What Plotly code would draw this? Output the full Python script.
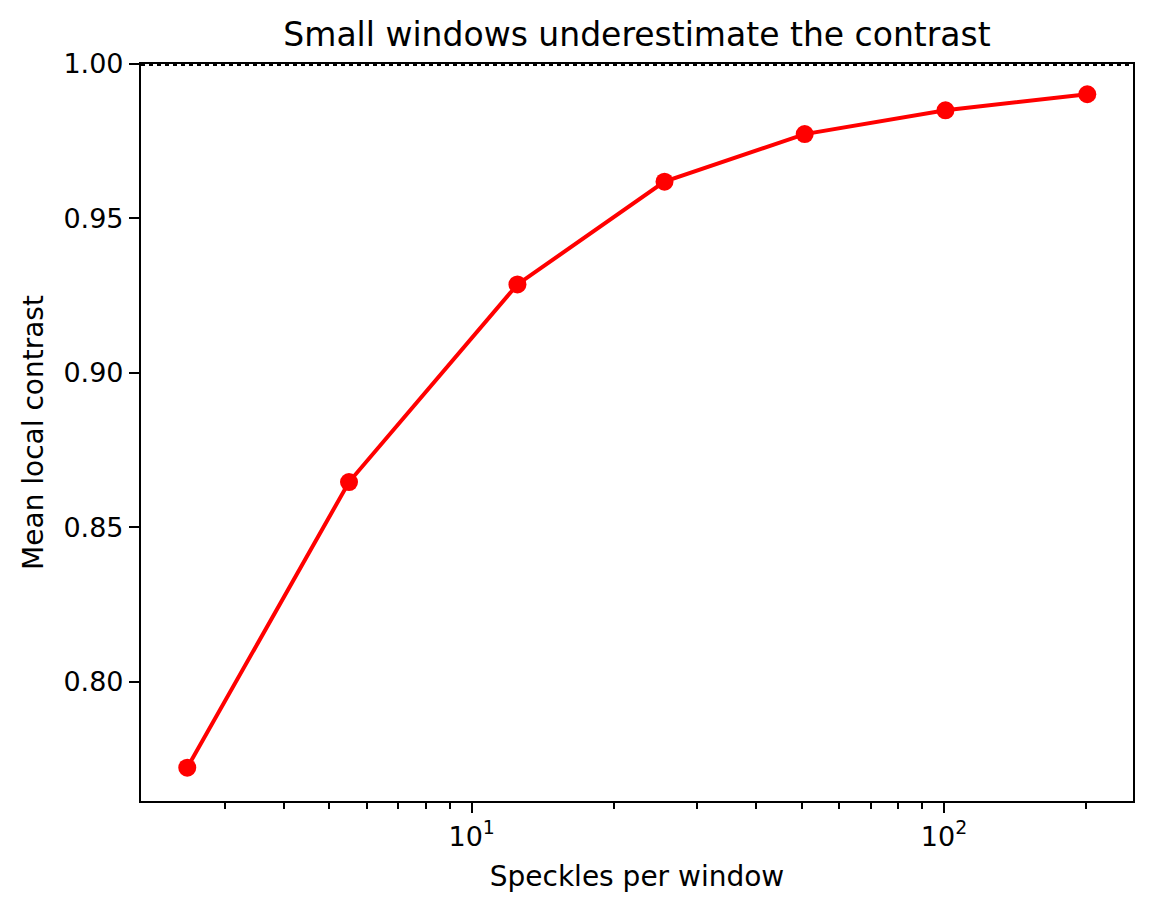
import plotly.graph_objects as go

# speckles per window vs mean local contrast
speckles = [2.5, 5.5, 12.5, 25.6, 50.7, 100.7, 201]
mean_contrast = [0.7721, 0.8646, 0.9286, 0.9619, 0.9773, 0.9850, 0.9902]
ref_level = 1.0

y_ticks = [0.80, 0.85, 0.90, 0.95, 1.00]
x_ticks = [10, 100]
x_ticktext = ["10<sup>1</sup>", "10<sup>2</sup>"]
x_minor = [3, 4, 5, 6, 7, 8, 9, 20, 30, 40, 50, 60, 70, 80, 90, 200]

FONT = "DejaVu Sans"

# the page body adds an 8px margin, so the figure is a bit smaller than the window
W, H = 1145, 904

fig = go.Figure()

fig.add_trace(go.Scatter(
    x=speckles, y=mean_contrast,
    mode="lines+markers",
    line=dict(color="#ff0000", width=4),
    marker=dict(color="#ff0000", size=18),
    showlegend=False,
    cliponaxis=False,
))

# dotted reference line at full contrast
fig.add_shape(type="line", xref="x domain", yref="y", layer="above",
              x0=0, x1=1, y0=ref_level, y1=ref_level,
              line=dict(color="black", width=4, dash="dot"))

fig.update_layout(
    width=W, height=H,
    margin=dict(l=133, r=20, t=56, b=111),
    paper_bgcolor="white", plot_bgcolor="white",
    font=dict(family=FONT, size=27, color="black"),
    title=dict(text="Small windows underestimate the contrast",
               x=0.5, xref="paper", xanchor="center",
               y=1 - 26 / H, yref="container", yanchor="middle",
               font=dict(family=FONT, size=33, color="black")),
)

fig.update_xaxes(
    type="log", range=[0.300, 2.400],
    tickmode="array", tickvals=x_ticks, ticktext=x_ticktext,
    ticks="outside", ticklen=10, tickwidth=2.2, tickcolor="black",
    showline=True, linecolor="black", linewidth=2.2, mirror=True,
    showgrid=False, zeroline=False,
    minor=dict(tickmode="array", tickvals=x_minor, ticks="outside",
               ticklen=6, tickwidth=1.7, tickcolor="black", showgrid=False),
    title=dict(text="Speckles per window", standoff=16,
               font=dict(family=FONT, size=28)),
    tickfont=dict(family=FONT, size=27),
)

fig.update_yaxes(
    range=[0.7613, 1.0],
    tickmode="array", tickvals=y_ticks, tickformat=".2f",
    ticks="outside", ticklen=10, tickwidth=2.2, tickcolor="black",
    showline=True, linecolor="black", linewidth=2.2, mirror=True,
    showgrid=False, zeroline=False,
    title=dict(text="Mean local contrast", standoff=12,
               font=dict(family=FONT, size=28)),
    tickfont=dict(family=FONT, size=27),
)

fig.write_html("out.html")
